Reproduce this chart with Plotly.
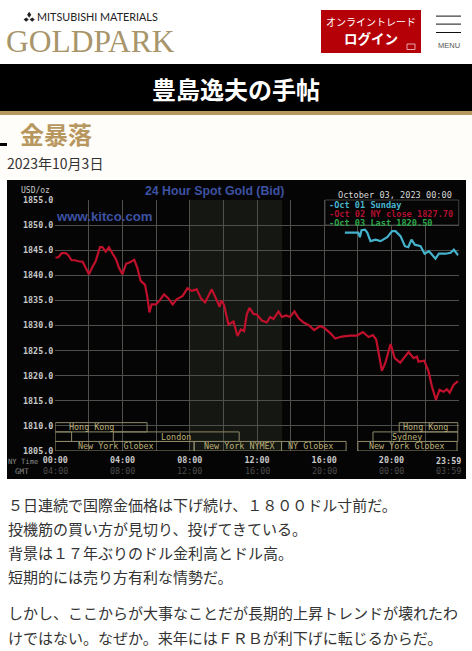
import plotly.graph_objects as go

W, H = 472, 651

# ---- data ----
price_ticks = [1805, 1810, 1815, 1820, 1825, 1830, 1835, 1840, 1845, 1850, 1855]
hour_ticks = [0, 2, 4, 6, 8, 10, 12, 14, 16, 18, 20, 22, 24]
ny_labels = ["00:00", "", "04:00", "", "08:00", "", "12:00", "", "16:00", "", "20:00", "", ""]
gmt_hours = [0, 4, 8, 12, 16, 20, 23.4]
gmt_labels = ["04:00", "08:00", "12:00", "16:00", "20:00", "00:00", "03:59"]

red_hours = [0, 0.18, 0.38, 0.63, 0.77, 0.97, 1.17, 1.37, 1.63, 1.83, 2.0, 2.2, 2.4, 2.66, 2.8, 3.0, 3.19, 3.41,
             3.61, 3.79, 3.99, 4.21, 4.44, 4.7, 4.88, 5.08, 5.34, 5.48, 5.6, 5.73, 5.99, 6.23, 6.47, 6.73, 6.98,
             7.22, 7.58, 7.86, 8.12, 8.41, 8.67, 8.91, 9.31, 9.61, 9.77, 9.87, 10.04, 10.3, 10.6, 10.84, 11.04,
             11.23, 11.39, 11.55, 11.79, 11.99, 12.29, 12.58, 12.78, 12.98, 13.28, 13.48, 13.73, 13.97, 14.23,
             14.47, 14.77, 15.06, 15.4, 15.76, 16.0, 16.36, 16.65, 17.05, 17.55, 17.94, 18.3, 18.64, 18.9, 19.09,
             19.23, 19.43, 19.63, 19.95, 20.19, 20.52, 21.02, 21.32, 21.51, 21.61, 21.95, 22.21, 22.41, 22.65,
             22.86, 23.1, 23.3, 23.46, 23.7, 23.96]
red_prices = [1843.5, 1843.6, 1844.4, 1844.4, 1844.0, 1843.0, 1843.0, 1842.8, 1842.7, 1841.5, 1840.2, 1841.6, 1842.8,
              1845.6, 1845.6, 1844.7, 1845.6, 1844.3, 1843.2, 1841.5, 1840.2, 1842.3, 1842.6, 1843.1, 1841.5, 1838.9,
              1838.1, 1835.6, 1832.6, 1834.2, 1834.2, 1835.1, 1836.2, 1835.4, 1834.2, 1835.2, 1835.9, 1837.4, 1836.9,
              1837.2, 1835.4, 1834.6, 1837.2, 1835.0, 1833.7, 1835.0, 1834.1, 1830.2, 1830.8, 1827.9, 1829.2, 1828.9,
              1832.2, 1833.5, 1832.3, 1832.2, 1831.0, 1830.6, 1831.7, 1831.3, 1832.8, 1831.7, 1832.0, 1831.7, 1832.8,
              1831.5, 1830.6, 1830.1, 1829.1, 1829.9, 1829.5, 1828.5, 1827.4, 1827.8, 1828.0, 1828.0, 1828.7, 1827.7,
              1828.1, 1827.2, 1824.5, 1821.0, 1822.5, 1826.3, 1823.5, 1822.6, 1824.7, 1823.5, 1823.8, 1822.8, 1823.0,
              1820.8, 1817.8, 1815.2, 1817.2, 1816.8, 1817.3, 1816.6, 1818.2, 1818.9]

cyan_hours = [17.23, 17.66, 18.02, 18.12, 18.22, 18.42, 18.56, 18.75, 19.05, 19.35, 19.75, 20.04, 20.24, 20.54, 20.8,
              21.0, 21.19, 21.39, 21.73, 21.97, 22.23, 22.62, 22.82, 23.22, 23.52, 23.71, 23.97]
cyan_prices = [1848.5, 1848.5, 1848.5, 1847.6, 1849.0, 1849.1, 1848.5, 1846.8, 1847.1, 1846.8, 1847.6, 1848.8, 1848.8,
               1847.8, 1845.8, 1845.6, 1847.1, 1846.1, 1845.8, 1844.3, 1844.8, 1843.3, 1844.3, 1844.3, 1844.5, 1845.1,
               1844.0]

session_names = ["Hong Kong", "", "London", "New York Globex", "New York NYMEX", "NY Globex", "New York Globex",
                 "Sydney", "Hong Kong"]
session_start = [0, 0, 3.45, 0, 8.26, 13.46, 18.0, 18.9, 20.46]
session_end = [5.46, 0.97, 10.94, 8.26, 13.46, 17.3, 23.9, 23.95, 23.95]
session_low = [1808.8, 1806.9, 1806.9, 1805, 1805, 1805, 1805, 1806.9, 1808.8]
session_high = [1810.65, 1808.8, 1808.8, 1806.9, 1806.9, 1806.9, 1806.9, 1808.8, 1810.65]
session_label_hour = [2.13, 0, 7.18, 3.61, 10.93, 15.2, 20.93, 20.93, 22.0]

legend_rows = ["-Oct 01 Sunday", "-Oct 02 NY close 1827.70", "-Oct 03 Last 1820.50"]
body_lines = ["５日連続で国際金価格は下げ続け、１８００ドル寸前だ。",
              "投機筋の買い方が見切り、投げてきている。",
              "背景は１７年ぶりのドル金利高とドル高。",
              "短期的には売り方有利な情勢だ。",
              "しかし、ここからが大事なことだが長期的上昇トレンドが壊れたわ",
              "けではない。なぜか。来年にはＦＲＢが利下げに転じるからだ。"]

# ---- styles ----
MONO = "DejaVu Sans Mono"
JP = "Noto Sans CJK JP"
GOLD = "#b8975f"
GRID = "#4f4f4b"
SESSION = "#bdb078"
BLUE = "#3d52a3"


def px(x):
    return x / W


def py(y):
    return 1 - y / H


annotations = []


def label(x, y, text, size, color, family=JP, anchor="left", bold=False):
    annotations.append(dict(
        xref="paper", yref="paper", x=px(x), y=py(y), text=f"<b>{text}</b>" if bold else text,
        showarrow=False, xanchor=anchor, yanchor="middle", align=anchor,
        font=dict(size=size, color=color, family=family), borderpad=0, borderwidth=0))


def rect(x0, y0, x1, y1, fill, layer="below", line=None):
    return dict(type="rect", xref="paper", yref="paper", x0=px(x0), x1=px(x1), y0=py(y0), y1=py(y1),
                fillcolor=fill, layer=layer, line=dict(width=0.8 if line else 0, color=line or fill))


def diamond(cx, cy, rx, ry):
    p = f"M {px(cx - rx)} {py(cy)} L {px(cx)} {py(cy - ry)} L {px(cx + rx)} {py(cy)} L {px(cx)} {py(cy + ry)} Z"
    return dict(type="path", xref="paper", yref="paper", path=p, fillcolor="#222", layer="above", line=dict(width=0))


shapes = [
    rect(0, 115, W, 178, "#fffdf9"),
    rect(321, 10, 421, 53, "#b50007"),
    rect(0, 64, W, 111, "#000000"),
    rect(0, 111, W, 115, GOLD),
    rect(0, 143, 7, 146, "#000000"),
    rect(7, 180, 466, 479, "#050505"),
    rect(436, 15.6, 461, 16.6, "#111111"),
    rect(436, 23.6, 461, 24.6, "#111111"),
    rect(436, 32, 461, 33, "#111111"),
    rect(407, 44, 415, 49.5, "#b50007", layer="above", line="#e8d0d0"),
    diamond(29.2, 14.8, 2.1, 3.0),
    diamond(26.2, 19.6, 2.6, 2.2),
    diamond(32.2, 19.6, 2.6, 2.2),
    # quiet-hours shading of the plot
    dict(type="rect", xref="x", yref="y", x0=8, x1=13.5, y0=1805, y1=1855, fillcolor="#151712",
         layer="below", line=dict(width=0)),
    # legend panel
    dict(type="rect", xref="paper", yref="paper", x0=px(325), x1=px(458.7), y0=py(225), y1=py(200),
         fillcolor="#050505", layer="above", line=dict(width=0.8, color=GRID)),
]

for s, e, lo, hi in zip(session_start, session_end, session_low, session_high):
    shapes.append(dict(type="rect", xref="x", yref="y", x0=s, x1=e, y0=lo, y1=hi, fillcolor="rgba(0,0,0,0)",
                       layer="above", line=dict(width=1, color="#8f8a68")))

for h, lo, hi, name in zip(session_label_hour, session_low, session_high, session_names):
    if name:
        annotations.append(dict(xref="x", yref="y", x=h, y=(lo + hi) / 2, text=name, showarrow=False,
                                xanchor="center", yanchor="middle",
                                font=dict(size=8.4, color=SESSION, family=MONO)))

for h, g in zip(gmt_hours, gmt_labels):
    annotations.append(dict(xref="x", yref="paper", x=h, y=py(471), text=g, showarrow=False, xanchor="center",
                            yanchor="middle", font=dict(size=8.4, color="#4d4d4d", family=MONO)))
annotations.append(dict(xref="x", yref="paper", x=23.4, y=py(461), text="<b>23:59</b>", showarrow=False,
                        xanchor="center", yanchor="middle", font=dict(size=8.4, color="#c8c8c8", family=MONO)))

# page header
label(37, 17, "MITSUBISHI MATERIALS", 10.8, "#222222", "Lato")
label(6, 42, "GOLDPARK", 31.5, "#a8956a", "Liberation Serif")
label(371, 21.5, "オンライントレード", 10, "#ffffff", JP, "center")
label(371, 38.5, "ログイン", 13.5, "#ffffff", JP, "center", True)
label(448.5, 46, "MENU", 7.5, "#555555", "Liberation Sans", "center")
label(236, 88, "豊島逸夫の手帖", 24, "#ffffff", JP, "center", True)
label(20, 133, "金暴落", 24, GOLD, JP, "left", True)
label(7, 163, "2023年10月3日", 14, "#333333", JP)

# chart texts
label(21, 190, "USD/oz", 8, "#c8c8c8", MONO)
label(214, 191, "24 Hour Spot Gold (Bid)", 12.3, BLUE, "Liberation Sans", "center", True)
label(56, 216, "www.kitco.com", 13.2, BLUE, "Liberation Sans", "left", True)
label(338, 194.5, "October 03, 2023 00:00", 8.6, "#d8d8d8", MONO)
for row, (text, col) in enumerate(zip(legend_rows, ["#4ab4cf", "#b01030", "#2fa84a"])):
    label(328.5, 205 + row * 9, text, 8.6, col, MONO, "left", True)
label(8, 461, "NY Time", 7.2, "#8a8a8a", MONO)
label(15, 471, "GMT", 7.6, "#8a8a8a", MONO)

# article body
for text, y in zip(body_lines, [504, 528, 552, 576, 612, 637]):
    label(7.5, y, text, 15, "#333333", JP)

fig = go.Figure()
fig.add_trace(go.Scatter(x=red_hours, y=red_prices, mode="lines", line=dict(color="#c0102c", width=2.2),
                         showlegend=False, hoverinfo="skip"))
fig.add_trace(go.Scatter(x=cyan_hours, y=cyan_prices, mode="lines", line=dict(color="#45b2cc", width=2.2),
                         showlegend=False, hoverinfo="skip"))

fig.update_layout(
    width=W, height=H, margin=dict(l=0, r=0, t=0, b=0),
    paper_bgcolor="#ffffff", plot_bgcolor="#050505",
    shapes=shapes, annotations=annotations, showlegend=False,
    xaxis=dict(domain=[px(55.3), px(458.7)], range=[0, 24], tickmode="array", tickvals=hour_ticks,
               ticktext=[f"<b>{t}</b>" if t else "" for t in ny_labels], showgrid=True, gridcolor=GRID,
               gridwidth=0.8, zeroline=False, ticks="", ticklabelstandoff=3,
               tickfont=dict(family=MONO, size=8.4, color="#c8c8c8"), fixedrange=True, automargin=False),
    yaxis=dict(domain=[py(451), py(200)], range=[1805, 1855], tickmode="array", tickvals=price_ticks,
               ticktext=[f"<b>{v:.1f}</b>" for v in price_ticks], showgrid=True, gridcolor=GRID, gridwidth=0.8,
               zeroline=False, ticks="", ticklabelstandoff=1, tickfont=dict(family=MONO, size=8.4, color="#c8c8c8"),
               fixedrange=True, automargin=False),
)

fig.write_html("out.html", config=dict(displayModeBar=False, responsive=False),
               post_script="document.body.style.margin='0';document.body.style.overflow='hidden';")
